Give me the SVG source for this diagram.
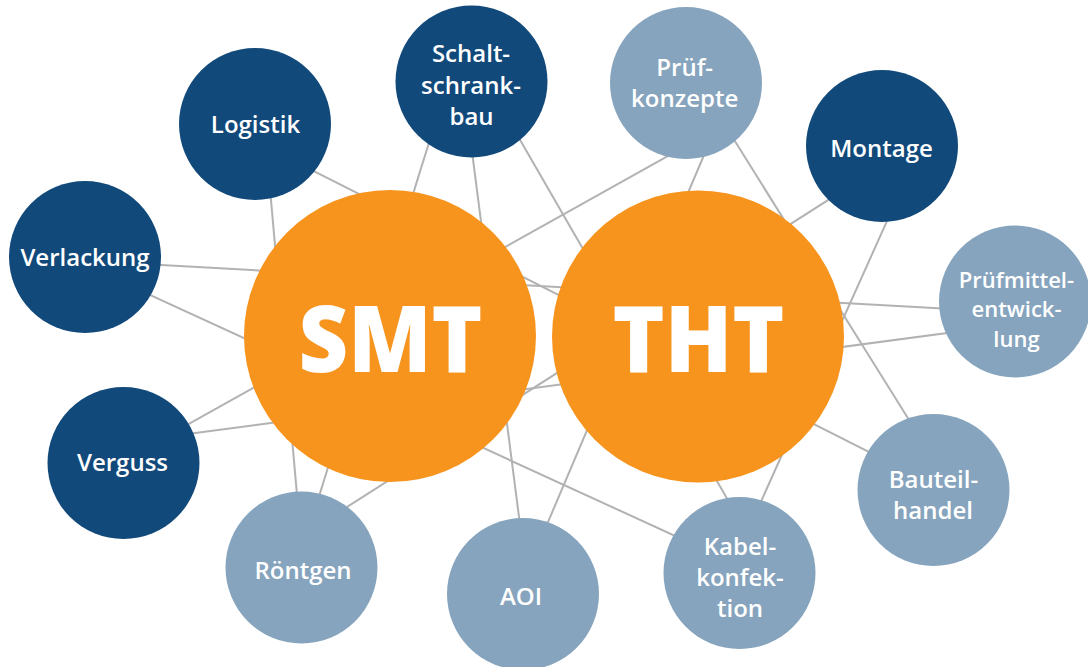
<svg xmlns="http://www.w3.org/2000/svg" width="1088" height="667" viewBox="0 0 1088 667">
<style>
.dark{fill:#12497b}
.light{fill:#86a4bd}
.big{fill:#f7941e}
.lbl{font-family:"Open Sans","Liberation Sans",sans-serif;font-weight:600;font-size:24px;fill:#fff;text-anchor:middle}
.sm{font-size:22px}
.hd{font-family:"Open Sans","Liberation Sans",sans-serif;font-weight:800;font-size:92px;fill:#fff;text-anchor:middle}
#connectors line{stroke:#b2b2b2;stroke-width:2;fill:none}
</style>
<rect width="1088" height="667" fill="#fff"/>
<g id="connectors">
<line x1="264.3" y1="124" x2="303.4" y2="567.5"/>
<line x1="255" y1="141.3" x2="933.5" y2="484.7"/>
<line x1="448" y1="81.5" x2="296.9" y2="567.5"/>
<line x1="463" y1="81.5" x2="528.9" y2="594"/>
<line x1="486.3" y1="81.5" x2="766" y2="566"/>
<line x1="712.9" y1="130.9" x2="123.5" y2="460.4"/>
<line x1="734.7" y1="83" x2="517.4" y2="594"/>
<line x1="698.6" y1="83" x2="952.8" y2="490"/>
<line x1="882" y1="165.7" x2="301.5" y2="536"/>
<line x1="920.7" y1="146" x2="728.9" y2="573"/>
<line x1="85" y1="260.8" x2="1015" y2="312.5"/>
<line x1="123.5" y1="442.5" x2="1015" y2="324"/>
<line x1="85" y1="265.2" x2="739.5" y2="565.5"/>
</g>
<g id="smt">
<circle class="big" cx="390" cy="336" r="146"/>
<text class="hd" x="390.5" y="372" textLength="184" lengthAdjust="spacingAndGlyphs">SMT</text>
</g>
<g id="tht">
<circle class="big" cx="698" cy="336.5" r="146"/>
<text class="hd" x="698.5" y="372" textLength="172" lengthAdjust="spacingAndGlyphs">THT</text>
</g>
<g id="logistik">
<circle class="dark" cx="255" cy="124" r="76"/>
<text class="lbl" x="255.5" y="133">Logistik</text>
</g>
<g id="schaltschrankbau">
<circle class="dark" cx="471.5" cy="81.5" r="76"/>
<text class="lbl" x="471" y="62">Schalt-</text>
<text class="lbl" x="471" y="93.5">schrank-</text>
<text class="lbl" x="471.5" y="125">bau</text>
</g>
<g id="pruefkonzepte">
<circle class="light" cx="686" cy="83" r="76"/>
<text class="lbl" x="684.7" y="76">Prüf-</text>
<text class="lbl" x="684.7" y="107.3">konzepte</text>
</g>
<g id="montage">
<circle class="dark" cx="882" cy="146" r="76"/>
<text class="lbl" x="881.5" y="156.7">Montage</text>
</g>
<g id="verlackung">
<circle class="dark" cx="85" cy="257" r="76"/>
<text class="lbl" x="85" y="266">Verlackung</text>
</g>
<g id="pruefmittelentwicklung">
<circle class="light" cx="1015" cy="301.5" r="76"/>
<text class="lbl sm" x="1016.4" y="287.5">Prüfmittel-</text>
<text class="lbl sm" x="1016.5" y="317">entwick-</text>
<text class="lbl sm" x="1016.5" y="346.5">lung</text>
</g>
<g id="verguss">
<circle class="dark" cx="123.5" cy="463" r="76"/>
<text class="lbl" x="122.5" y="471">Verguss</text>
</g>
<g id="roentgen">
<circle class="light" cx="301.5" cy="567.5" r="76"/>
<text class="lbl" x="303" y="579">Röntgen</text>
</g>
<g id="aoi">
<circle class="light" cx="523" cy="594" r="76"/>
<text class="lbl" x="521" y="605">AOI</text>
</g>
<g id="kabelkonfektion">
<circle class="light" cx="739.5" cy="573" r="76"/>
<text class="lbl" x="740" y="555">Kabel-</text>
<text class="lbl" x="740" y="586">konfek-</text>
<text class="lbl" x="740" y="617">tion</text>
</g>
<g id="bauteilhandel">
<circle class="light" cx="933.5" cy="490" r="76"/>
<text class="lbl" x="933.5" y="488">Bauteil-</text>
<text class="lbl" x="933" y="519">handel</text>
</g>
</svg>
